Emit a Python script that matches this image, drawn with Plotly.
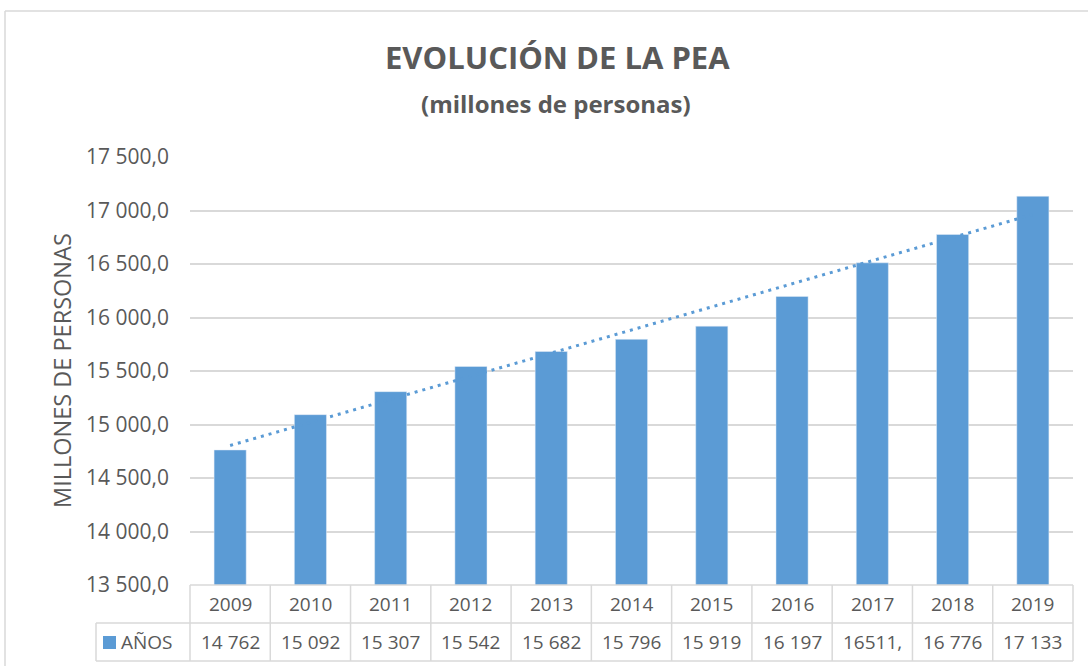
import numpy as np
import plotly.graph_objects as go

years = ["2009", "2010", "2011", "2012", "2013", "2014", "2015", "2016", "2017", "2018", "2019"]
pea = [14762, 15092, 15307, 15542, 15682, 15796, 15919, 16197, 16511, 16776, 17133]
value_labels = ["14 762", "15 092", "15 307", "15 542", "15 682", "15 796", "15 919",
                "16 197", "16511,", "16 776", "17 133"]
series_name = "AÑOS"
y_ticks = [13500, 14000, 14500, 15000, 15500, 16000, 16500, 17000, 17500]

BLUE = "#5B9BD5"
TXT = "#595959"
GRID = "#D9D9D9"
FONT = "Open Sans"

W, H = 1088, 666
L, R, T, B = 190, 1073, 157, 585
PW, PH = R - L, B - T


def px_x(px):
    return (px - L) / PW


def px_y(py):
    return (B - py) / PH


# linear trendline (least squares, as Excel)
idx = np.arange(len(pea))
slope, intercept = np.polyfit(idx, pea, 1)
trend = slope * idx + intercept

fig = go.Figure()
fig.add_trace(go.Bar(x=years, y=pea, marker_color=BLUE, width=0.4, name=series_name,
                     showlegend=False))
fig.add_trace(go.Scatter(x=years, y=trend, mode="lines",
                         line=dict(color=BLUE, width=3, dash="3px,5px"),
                         showlegend=False, hoverinfo="skip"))

n = len(years)
cell = PW / n

shapes = []
line_style = dict(color=GRID, width=1.5)
# outer chart border (top and left visible)
shapes.append(dict(type="line", xref="paper", yref="paper", x0=px_x(5), x1=px_x(1100),
                   y0=px_y(11), y1=px_y(11), line=line_style))
shapes.append(dict(type="line", xref="paper", yref="paper", x0=px_x(5), x1=px_x(5),
                   y0=px_y(11), y1=px_y(700), line=line_style))
# data table horizontal lines
shapes.append(dict(type="line", xref="paper", yref="paper", x0=px_x(L), x1=px_x(R),
                   y0=px_y(585), y1=px_y(585), line=line_style))
for yy in (623, 661):
    shapes.append(dict(type="line", xref="paper", yref="paper", x0=px_x(96), x1=px_x(R),
                       y0=px_y(yy), y1=px_y(yy), line=line_style))
# data table vertical lines
for k in range(n + 1):
    xx = L + k * cell
    shapes.append(dict(type="line", xref="paper", yref="paper", x0=px_x(xx), x1=px_x(xx),
                       y0=px_y(585), y1=px_y(661), line=line_style))
shapes.append(dict(type="line", xref="paper", yref="paper", x0=px_x(96), x1=px_x(96),
                   y0=px_y(623), y1=px_y(661), line=line_style))
# legend key
shapes.append(dict(type="rect", xref="paper", yref="paper", x0=px_x(103), x1=px_x(116),
                   y0=px_y(649), y1=px_y(636), fillcolor=BLUE, line=dict(width=0)))

annotations = []


def ann(text, x, y, size, bold=False, xanchor="center", angle=0):
    annotations.append(dict(text=("<b>%s</b>" % text) if bold else text,
                            xref="paper", yref="paper", x=x, y=y,
                            xanchor=xanchor, yanchor="middle", showarrow=False,
                            textangle=angle, font=dict(family=FONT, size=size, color=TXT)))


ann("EVOLUCIÓN DE LA PEA", px_x(557), px_y(57), 31, bold=True)
ann("(millones de personas)", px_x(556), px_y(103), 24, bold=True)
ann("MILLONES DE PERSONAS", px_x(62), px_y(371), 23.5, angle=-90)
for i, yr in enumerate(years):
    cx = px_x(L + (i + 0.5) * cell)
    ann(yr, cx, px_y(604), 19)
    ann(value_labels[i], cx, px_y(642), 19)
ann(series_name, px_x(119), px_y(642), 19, xanchor="left")

fig.update_layout(
    width=W, height=H,
    margin=dict(l=L, r=W - R, t=T, b=H - B, pad=0),
    paper_bgcolor="white", plot_bgcolor="white",
    separators=", ",
    font=dict(family=FONT, color=TXT),
    shapes=shapes, annotations=annotations,
)
fig.update_xaxes(showticklabels=False, showgrid=False, zeroline=False, showline=False,
                 range=[-0.5, n - 0.5], fixedrange=True)
fig.update_yaxes(range=[13500, 17500], tickvals=y_ticks, tickformat=",.1f",
                 showgrid=True, gridcolor=GRID, gridwidth=1.5, zeroline=False,
                 showline=False, ticks="", ticklabelstandoff=20,
                 tickfont=dict(family=FONT, size=21, color=TXT), fixedrange=True)

fig.write_html("out.html", config={"displayModeBar": False},
               post_script="document.body.style.margin='0';")
